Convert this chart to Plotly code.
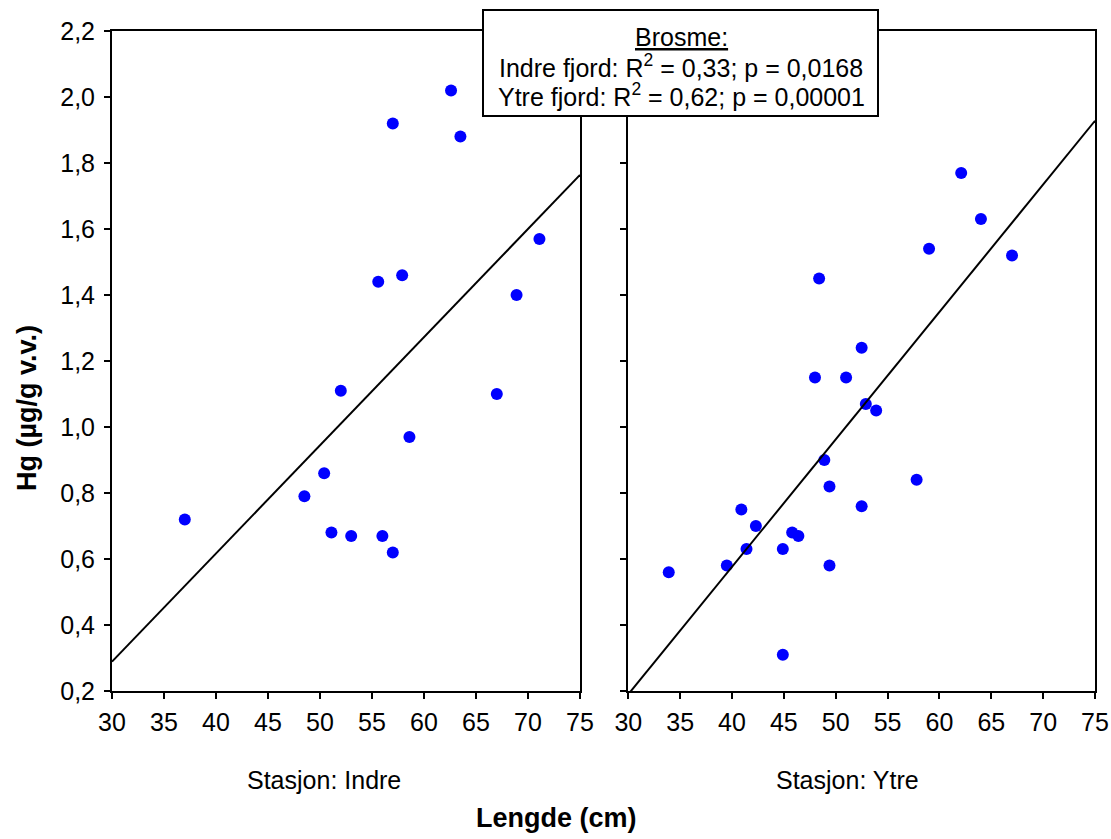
import plotly.graph_objects as go

# ---- data ----
indre_len = [62.6, 57.0, 63.5, 71.1, 55.6, 57.9, 68.9, 52.0, 67.0, 58.6, 50.4, 48.5, 37.0, 51.1, 53.0, 56.0, 57.0]
indre_hg = [2.02, 1.92, 1.88, 1.57, 1.44, 1.46, 1.40, 1.11, 1.10, 0.97, 0.86, 0.79, 0.72, 0.68, 0.67, 0.67, 0.62]

ytre_len = [62.1, 64.0, 59.0, 67.0, 48.4, 52.5, 48.0, 51.0, 52.9, 53.9, 48.9, 57.8,
            49.4, 52.5, 40.9, 42.3, 45.8, 46.4, 41.4, 44.9, 39.5, 49.4, 33.9, 44.9]
ytre_hg = [1.77, 1.63, 1.54, 1.52, 1.45, 1.24, 1.15, 1.15, 1.07, 1.05, 0.90, 0.84,
           0.82, 0.76, 0.75, 0.70, 0.68, 0.67, 0.63, 0.63, 0.58, 0.58, 0.56, 0.31]

fit_x = [30, 75]
indre_fit = [0.289, 1.764]
ytre_fit = [0.19, 1.928]

x_ticks = [30, 35, 40, 45, 50, 55, 60, 65, 70, 75]
y_ticks = [0.2, 0.4, 0.6, 0.8, 1.0, 1.2, 1.4, 1.6, 1.8, 2.0, 2.2]

FONT = "Liberation Sans, Arial, sans-serif"
BLUE = "#0000FF"
FS = 25

fig = go.Figure()
fig.add_trace(go.Scatter(x=indre_len, y=indre_hg, mode="markers",
                         marker=dict(color=BLUE, size=12), xaxis="x", yaxis="y", showlegend=False))
fig.add_trace(go.Scatter(x=fit_x, y=indre_fit, mode="lines",
                         line=dict(color="black", width=2), xaxis="x", yaxis="y", showlegend=False))
fig.add_trace(go.Scatter(x=ytre_len, y=ytre_hg, mode="markers",
                         marker=dict(color=BLUE, size=12), xaxis="x2", yaxis="y2", showlegend=False))
fig.add_trace(go.Scatter(x=fit_x, y=ytre_fit, mode="lines",
                         line=dict(color="black", width=2), xaxis="x2", yaxis="y2", showlegend=False))

xcommon = dict(range=[30, 75], tickvals=x_ticks, ticks="outside", ticklen=6, tickwidth=2,
               tickcolor="black", showline=True, linecolor="black", linewidth=2, mirror=True,
               showgrid=False, zeroline=False, tickfont=dict(size=FS, color="black"),
               ticklabelstandoff=2)
ycommon = dict(range=[0.2, 2.2], tickvals=y_ticks, ticks="outside", ticklen=6, tickwidth=2,
               tickcolor="black", showline=True, linecolor="black", linewidth=2, mirror=True,
               showgrid=False, zeroline=False, tickformat=".1f",
               tickfont=dict(size=FS, color="black"), ticklabelstandoff=4)
yinside = dict(range=[0.2, 2.2], tickvals=y_ticks, ticks="inside", ticklen=6, tickwidth=2,
               tickcolor="black", showline=False, showgrid=False, zeroline=False,
               showticklabels=False, side="right")

L, R, T, B = 112, 16, 31, 148
W, H = 1111, 839
pw = W - L - R
ph = H - T - B


def px(xp):
    return (xp - L) / pw


def py(yp):
    return (H - B - yp) / ph


fig.update_layout(
    width=W, height=H,
    margin=dict(l=L, r=R, t=T, b=B, autoexpand=False),
    paper_bgcolor="white", plot_bgcolor="white",
    separators=", ",
    font=dict(family=FONT, size=FS, color="black"),
    xaxis=dict(domain=[0, px(580)], anchor="y", **xcommon),
    yaxis=dict(domain=[0, 1], anchor="x", **ycommon),
    xaxis2=dict(domain=[px(628.3), 1], anchor="y2", **xcommon),
    yaxis2=dict(domain=[0, 1], anchor="x2", showticklabels=False, **ycommon),
    yaxis3=dict(overlaying="y", anchor="x", **yinside),
    yaxis4=dict(overlaying="y2", anchor="x2", **yinside),
)

fig.add_shape(type="rect", xref="paper", yref="paper",
              x0=px(483), x1=px(878), y0=py(116), y1=py(10),
              fillcolor="white", line=dict(color="black", width=2), layer="above")

ann = [
    dict(text="<u>Brosme:</u>", x=px(681), y=py(37)),
    dict(text="Indre fjord: R<sup>2</sup> = 0,33; p = 0,0168", x=px(681), y=py(66)),
    dict(text="Ytre fjord: R<sup>2</sup> = 0,62; p = 0,00001", x=px(681), y=py(95)),
    dict(text="Stasjon: Indre", x=px(324), y=py(780)),
    dict(text="Stasjon: Ytre", x=px(847), y=py(780)),
    dict(text="<b>Lengde (cm)</b>", x=px(556), y=py(818), font=dict(size=27)),
    dict(text="<b>Hg (µg/g v.v.)</b>", x=px(27), y=py(408), textangle=-90, font=dict(size=27)),
]
for a in ann:
    base = dict(xref="paper", yref="paper", showarrow=False, xanchor="center", yanchor="middle",
                font=dict(family=FONT, size=FS, color="black"))
    f = a.pop("font", None)
    if f:
        base["font"].update(f)
    base.update(a)
    fig.add_annotation(**base)

fig.write_html("out.html", config={"displayModeBar": False},
               post_script="document.body.style.margin='0px';")
